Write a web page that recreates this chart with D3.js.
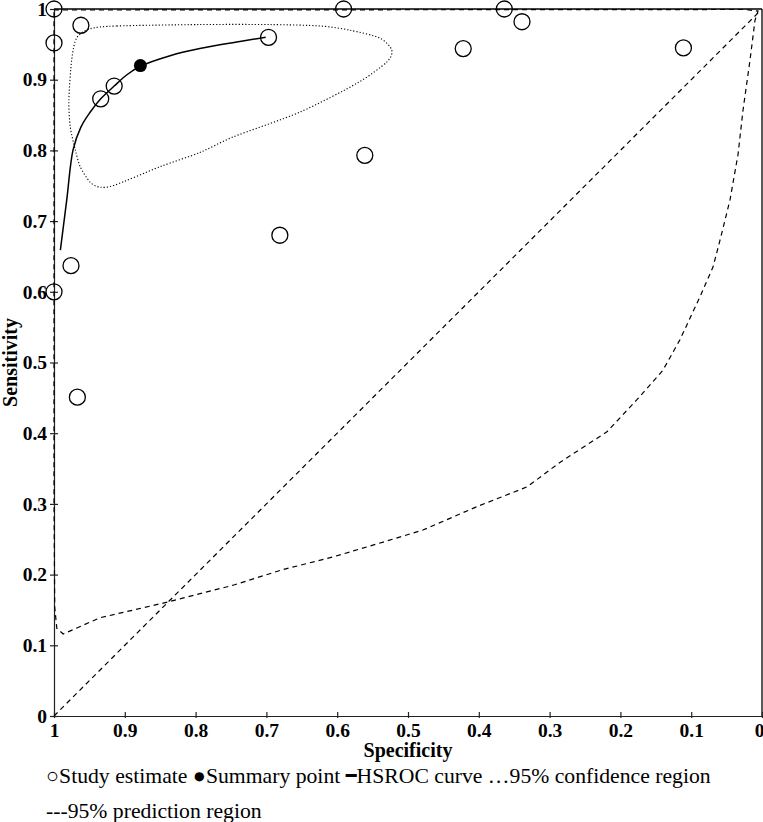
<!DOCTYPE html>
<html><head><meta charset="utf-8">
<script src="https://cdn.jsdelivr.net/npm/d3@7"></script>
<style>
html,body{margin:0;padding:0;background:#fff;}
svg{display:block;}
</style></head>
<body>
<svg id="chart" width="763" height="822"></svg>
<script>
// Study estimates: [specificity, sensitivity]
const studySpec = [1.000, 1.000, 0.962, 0.934, 0.915, 0.697, 0.591, 0.561, 0.364, 0.339, 0.422, 0.111, 0.681, 0.976, 1.000, 0.967];
const studySens = [1.000, 0.952, 0.977, 0.873, 0.891, 0.960, 1.000, 0.793, 1.000, 0.982, 0.944, 0.945, 0.680, 0.637, 0.600, 0.451];
// Summary point
const summarySpec = 0.878;
const summarySens = 0.920;
// HSROC curve
const hsrocSpec = [0.991, 0.982, 0.973, 0.962, 0.949, 0.934, 0.915, 0.897, 0.878, 0.836, 0.794, 0.744, 0.701];
const hsrocSens = [0.659, 0.730, 0.801, 0.833, 0.854, 0.873, 0.891, 0.907, 0.919, 0.934, 0.944, 0.953, 0.960];
// 95% confidence region
const confSpec = [0.949, 0.911, 0.794, 0.695, 0.624, 0.582, 0.540, 0.523, 0.530, 0.572, 0.653, 0.747, 0.794, 0.850, 0.914, 0.935, 0.949, 0.963, 0.970, 0.977, 0.979, 0.975, 0.968];
const confSens = [0.972, 0.976, 0.978, 0.978, 0.976, 0.970, 0.959, 0.942, 0.925, 0.895, 0.854, 0.819, 0.797, 0.777, 0.751, 0.748, 0.755, 0.777, 0.801, 0.833, 0.871, 0.928, 0.959];
// 95% prediction region
const predSpec = [1.000, 0.907, 0.024, 0.0056, 0.0099, 0.0169, 0.0268, 0.0339, 0.0452, 0.0593, 0.0692, 0.0876, 0.116, 0.140, 0.177, 0.219, 0.285, 0.332, 0.403, 0.479, 0.535, 0.606, 0.677, 0.747, 0.840, 0.935, 0.987, 0.996, 0.999, 1.000, 1.000];
const predSens = [0.9986, 0.9986, 0.9993, 0.997, 0.984, 0.928, 0.857, 0.794, 0.730, 0.673, 0.635, 0.593, 0.532, 0.489, 0.447, 0.402, 0.359, 0.324, 0.296, 0.263, 0.246, 0.225, 0.207, 0.185, 0.161, 0.139, 0.116, 0.124, 0.154, 0.306, 0.9986];
// Ticks
const xTicks = [1, 0.9, 0.8, 0.7, 0.6, 0.5, 0.4, 0.3, 0.2, 0.1, 0];
const yTicks = [0, 0.1, 0.2, 0.3, 0.4, 0.5, 0.6, 0.7, 0.8, 0.9, 1];
const xTitle = "Specificity";
const yTitle = "Sensitivity";

const svg = d3.select("#chart");
const x = d3.scaleLinear().domain([1, 0]).range([54, 762]);
const y = d3.scaleLinear().domain([0, 1]).range([716, 9]);
const zip = (a, b) => a.map((v, i) => [v, b[i]]);
const serif = "Liberation Serif";

// frame (top and right)
svg.append("line").attr("x1", x(1)).attr("x2", x(0)).attr("y1", y(1)).attr("y2", y(1))
  .attr("stroke", "#000").attr("stroke-width", 1.3);
svg.append("line").attr("x1", x(0)).attr("x2", x(0)).attr("y1", y(1)).attr("y2", y(0))
  .attr("stroke", "#000").attr("stroke-width", 1.3);

// axes
const xAxis = svg.append("g").attr("transform", `translate(0,${y(0)})`)
  .call(d3.axisBottom(x).tickValues(xTicks).tickFormat(d => String(d)).tickSize(-4).tickPadding(7).tickSizeOuter(0));
xAxis.selectAll(".tick line").attr("y1", 2);
xAxis.selectAll(".tick text").filter(d => d === 0).attr("dx", -3);
const yAxis = svg.append("g").attr("transform", `translate(${x(1)},0)`)
  .call(d3.axisLeft(y).tickValues(yTicks).tickFormat(d => String(d)).tickSize(4).tickPadding(3).tickSizeOuter(0));
yAxis.selectAll(".tick line").attr("x1", 4);
[xAxis, yAxis].forEach(g => {
  g.select(".domain").attr("stroke", "#222").attr("stroke-width", 1.2);
  g.selectAll(".tick line").attr("stroke", "#222").attr("stroke-width", 1.2);
  g.selectAll("text").attr("font-family", serif).attr("font-weight", "bold").attr("font-size", 19.5).attr("fill", "#000");
});

// axis titles
svg.append("text").attr("x", (x(1) + x(0)) / 2).attr("y", 757).attr("text-anchor", "middle")
  .attr("font-family", serif).attr("font-weight", "bold").attr("font-size", 20).text(xTitle);
svg.append("text").attr("transform", `translate(17,${(y(0) + y(1)) / 2}) rotate(-90)`).attr("text-anchor", "middle")
  .attr("font-family", serif).attr("font-weight", "bold").attr("font-size", 20).text(yTitle);

// diagonal reference line
svg.append("line").attr("x1", x(1)).attr("y1", y(0)).attr("x2", x(0.003)).attr("y2", y(0.997))
  .attr("stroke", "#000").attr("stroke-width", 1.2).attr("stroke-dasharray", "5,4");

// prediction region
svg.append("path").datum(zip(predSpec, predSens))
  .attr("d", d3.line().x(d => x(d[0])).y(d => y(d[1])).curve(d3.curveLinear))
  .attr("fill", "none").attr("stroke", "#000").attr("stroke-width", 1.2).attr("stroke-dasharray", "5,4");

// confidence region
svg.append("path").datum(zip(confSpec, confSens))
  .attr("d", d3.line().x(d => x(d[0])).y(d => y(d[1])).curve(d3.curveCardinalClosed.tension(0.2)))
  .attr("fill", "none").attr("stroke", "#000").attr("stroke-width", 1.1).attr("stroke-dasharray", "1.2,2");

// HSROC curve
svg.append("path").datum(zip(hsrocSpec, hsrocSens))
  .attr("d", d3.line().x(d => x(d[0])).y(d => y(d[1])).curve(d3.curveCatmullRom))
  .attr("fill", "none").attr("stroke", "#000").attr("stroke-width", 1.5);

// study estimates
svg.append("g").selectAll("circle").data(zip(studySpec, studySens)).join("circle")
  .attr("cx", d => x(d[0])).attr("cy", d => y(d[1])).attr("r", 8)
  .attr("fill", "none").attr("stroke", "#000").attr("stroke-width", 1.3);

// summary point
svg.append("circle").attr("cx", x(summarySpec)).attr("cy", y(summarySens)).attr("r", 6.5).attr("fill", "#000");

// legend
const leg1 = svg.append("text").attr("x", 46).attr("y", 783).attr("font-family", serif).attr("font-size", 21.7);
leg1.append("tspan").text("○Study estimate ●Summary point ");
leg1.append("tspan").attr("font-family", "DejaVu Sans").attr("font-size", 18).attr("dy", -1).text("━");
leg1.append("tspan").attr("dy", 1).text("HSROC curve …95% confidence region");
svg.append("text").attr("x", 46).attr("y", 818).attr("font-family", serif).attr("font-size", 21.7)
  .text("---95% prediction region");
</script>
</body></html>
